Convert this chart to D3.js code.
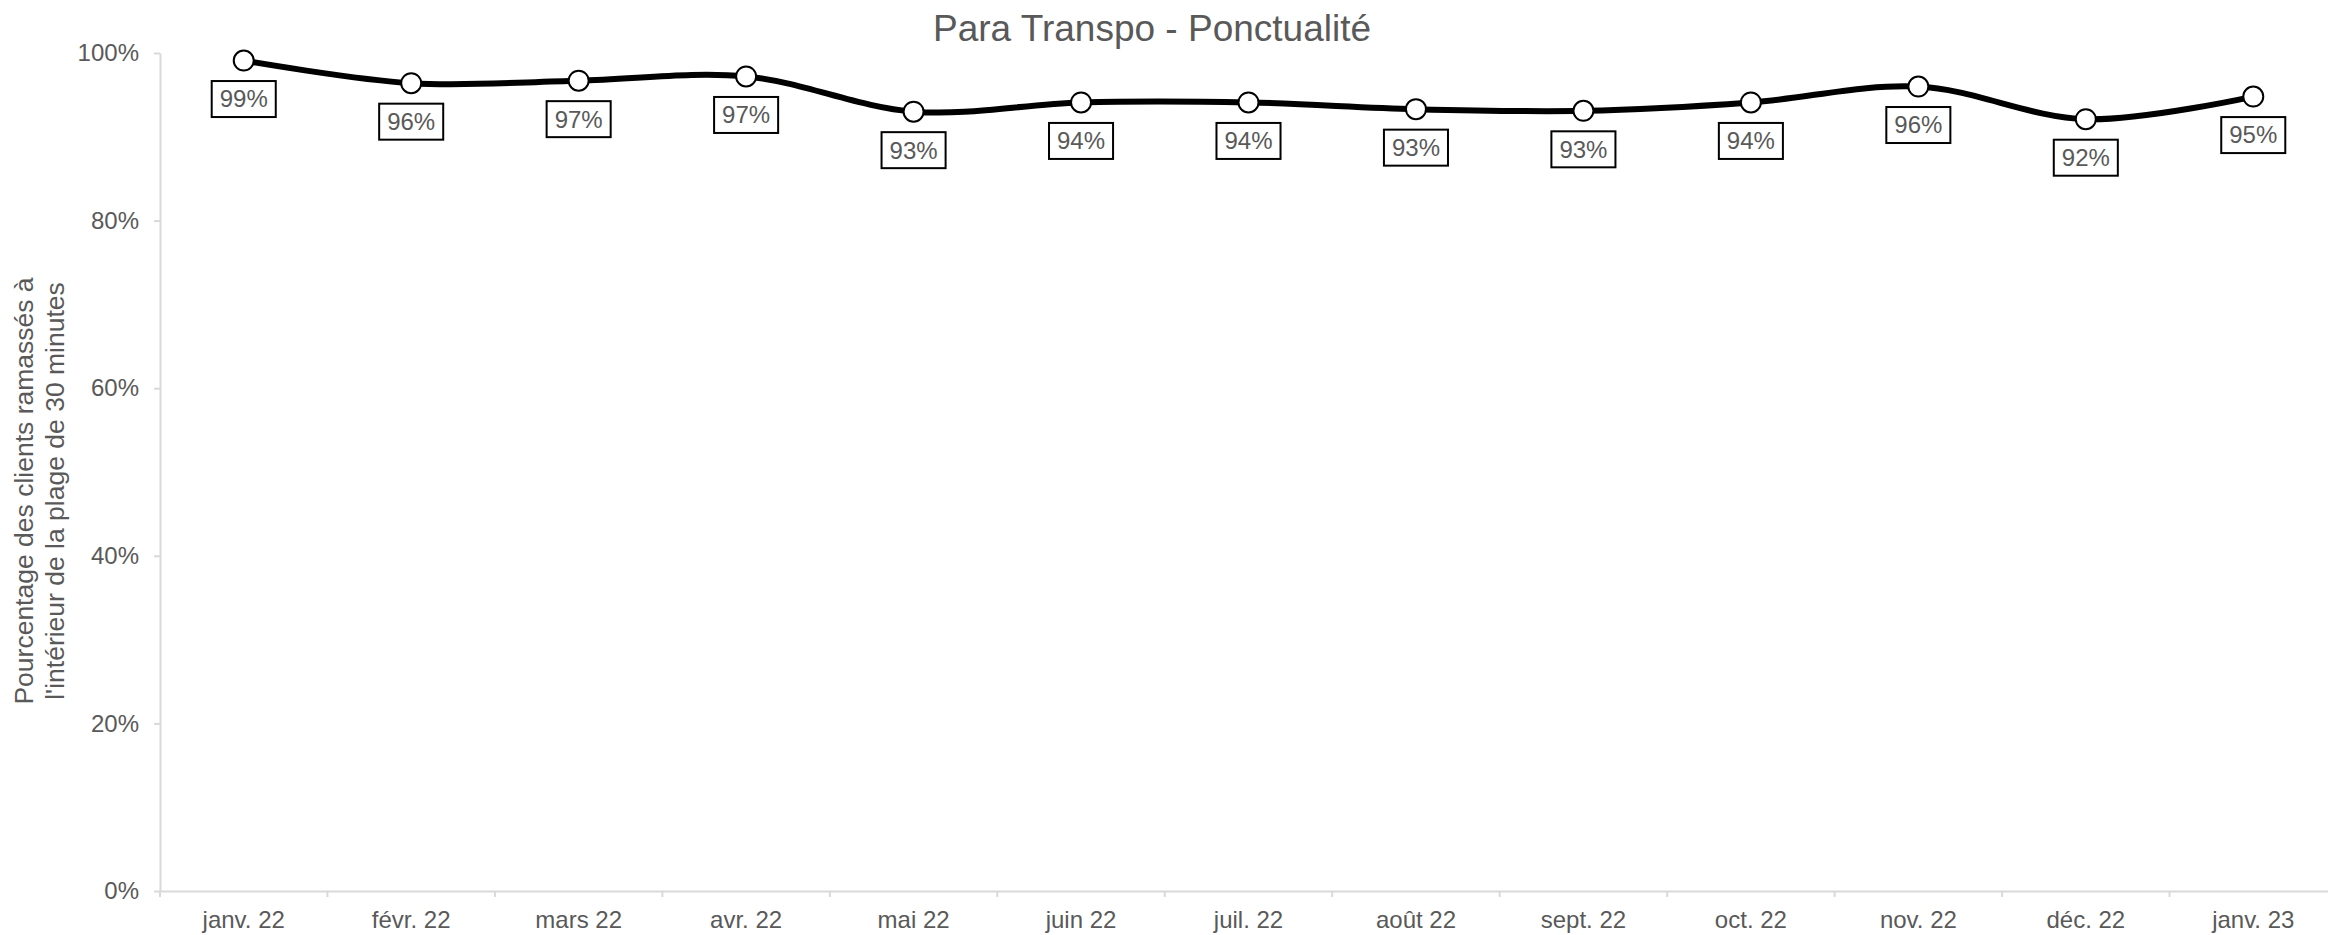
<!DOCTYPE html>
<html>
<head>
<meta charset="utf-8">
<script src="https://cdn.jsdelivr.net/npm/d3@7"></script>
<style>
  html, body { margin: 0; padding: 0; background: #ffffff; }
  svg { display: block; font-family: "Liberation Sans", Arial, sans-serif; }
</style>
</head>
<body>
<svg id="chart" width="2328" height="935"></svg>
<script>
// ---- data ----
const categories = ["janv. 22", "févr. 22", "mars 22", "avr. 22", "mai 22", "juin 22",
  "juil. 22", "août 22", "sept. 22", "oct. 22", "nov. 22", "déc. 22", "janv. 23"];
const ponctualite = [99.1, 96.4, 96.7, 97.2, 93.0, 94.1, 94.1, 93.3, 93.1, 94.1, 96.0, 92.1, 94.8];
const yTicks = [0, 20, 40, 60, 80, 100];
const chartTitle = "Para Transpo - Ponctualité";
const yTitleLines = ["Pourcentage des clients ramassés à", "l'intérieur de la plage de 30 minutes"];

// ---- layout ----
const W = 2328, H = 935;
const svg = d3.select("#chart");
const textColor = "#595959";
const axisColor = "#d9d9d9";

const x = d3.scaleBand().domain(categories).range([160, 2337]).padding(0);
const y = d3.scaleLinear().domain([0, 100]).range([891, 53]);

// Y axis
const yAxis = d3.axisLeft(y).tickValues(yTicks).tickFormat(d => d + "%")
  .tickSize(6).tickPadding(15).tickSizeOuter(0);
const gy = svg.append("g").attr("transform", `translate(${x.range()[0]},0)`).call(yAxis);
gy.select(".domain").attr("stroke", axisColor).attr("stroke-width", 2);
gy.selectAll(".tick line").attr("stroke", axisColor).attr("stroke-width", 2);
gy.selectAll(".tick text").attr("fill", textColor).style("font-size", "24px")
  .style("font-family", '"Liberation Sans", Arial, sans-serif');

// X axis
const xAxis = d3.axisBottom(x).tickSize(0).tickPadding(20).tickSizeOuter(0);
const gx = svg.append("g").attr("transform", `translate(0,${y(0)})`).call(xAxis);
gx.select(".domain").attr("stroke", axisColor).attr("stroke-width", 2);
gx.selectAll(".tick text").attr("fill", textColor).style("font-size", "24px")
  .style("font-family", '"Liberation Sans", Arial, sans-serif');
// boundary ticks
const bounds = categories.map(c => x(c)).concat([x(categories[categories.length - 1]) + x.bandwidth()]);
gx.selectAll("line.bt").data(bounds).enter().append("line")
  .attr("class", "bt")
  .attr("x1", d => d).attr("x2", d => d)
  .attr("y1", 0).attr("y2", 6)
  .attr("stroke", axisColor).attr("stroke-width", 2);

// Title
svg.append("text")
  .attr("x", 1152).attr("y", 41)
  .attr("text-anchor", "middle")
  .attr("fill", textColor)
  .style("font-size", "37px")
  .text(chartTitle);

// Y axis title
const yTitleX = [33, 64];
const yTitleCenter = 491;
yTitleLines.forEach((line, i) => {
  svg.append("text")
    .attr("transform", `translate(${yTitleX[i]},${yTitleCenter}) rotate(-90)`)
    .attr("text-anchor", "middle")
    .attr("fill", textColor)
    .style("font-size", "26.5px")
    .text(line);
});

// Line
const data = categories.map((c, i) => ({ c, v: ponctualite[i] }));
const cx = d => x(d.c) + x.bandwidth() / 2;
const line = d3.line().x(cx).y(d => y(d.v)).curve(d3.curveCatmullRom.alpha(0.5));
svg.append("path").datum(data)
  .attr("d", line)
  .attr("fill", "none")
  .attr("stroke", "#000000")
  .attr("stroke-width", 6)
  .attr("stroke-linejoin", "round");

// Markers
svg.selectAll("circle.pt").data(data).enter().append("circle")
  .attr("class", "pt")
  .attr("cx", cx).attr("cy", d => y(d.v))
  .attr("r", 10)
  .attr("fill", "#ffffff")
  .attr("stroke", "#000000")
  .attr("stroke-width", 2);

// Data labels
const lg = svg.selectAll("g.lbl").data(data).enter().append("g")
  .attr("class", "lbl")
  .attr("transform", d => `translate(${cx(d)},${y(d.v) + 38.5})`);
lg.append("rect");
lg.append("text")
  .attr("text-anchor", "middle")
  .attr("dy", "0.35em")
  .attr("fill", textColor)
  .style("font-size", "24px")
  .text(d => Math.round(d.v) + "%");
lg.each(function () {
  const g = d3.select(this);
  const bb = g.select("text").node().getBBox();
  const w = bb.width + 16, h = 36;
  g.select("rect")
    .attr("x", -w / 2).attr("y", -h / 2)
    .attr("width", w).attr("height", h)
    .attr("fill", "#ffffff")
    .attr("stroke", "#000000")
    .attr("stroke-width", 2);
});
</script>
</body>
</html>
